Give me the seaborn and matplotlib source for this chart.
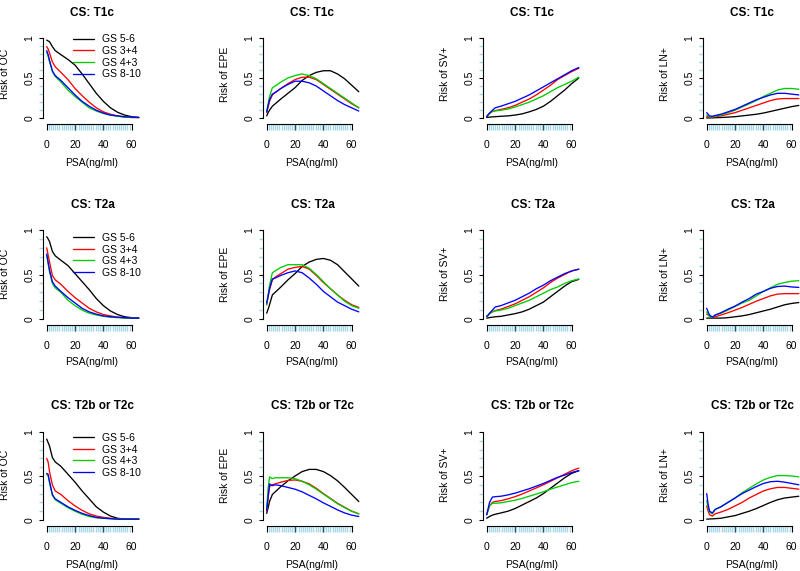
import pandas as pd
import seaborn as sns
import matplotlib.pyplot as plt

# PSA grid the risk curves are read at
psa = [0, 1, 2, 4, 6, 10, 15, 20, 25, 30, 35, 40, 45, 50, 55, 60, 65]
groups = ["GS 5-6", "GS 3+4", "GS 4+3", "GS 8-10"]
colors = ["black", "red", "#00cd00", "blue"]
stages = ["T1c", "T2a", "T2b or T2c"]
outcomes = ["OC", "EPE", "SV+", "LN+"]

# ---- CS: T1c ----
oc_t1c = {
    "GS 5-6": [0.97, 0.96, 0.95, 0.89, 0.84, 0.79, 0.73, 0.66, 0.55, 0.43, 0.31, 0.21, 0.13, 0.075, 0.04, 0.02, 0.01],
    "GS 3+4": [0.89, 0.86, 0.81, 0.70, 0.64, 0.57, 0.48, 0.37, 0.28, 0.20, 0.13, 0.08, 0.05, 0.03, 0.015, 0.01, 0.01],
    "GS 4+3": [0.82, 0.77, 0.70, 0.58, 0.52, 0.45, 0.35, 0.27, 0.20, 0.13, 0.09, 0.06, 0.04, 0.025, 0.015, 0.01, 0.01],
    "GS 8-10": [0.84, 0.79, 0.72, 0.59, 0.53, 0.47, 0.38, 0.29, 0.21, 0.15, 0.10, 0.065, 0.04, 0.03, 0.02, 0.015, 0.01],
}
epe_t1c = {
    "GS 5-6": [0.03, 0.07, 0.10, 0.15, 0.18, 0.24, 0.31, 0.38, 0.47, 0.53, 0.57, 0.59, 0.59, 0.55, 0.49, 0.41, 0.33],
    "GS 3+4": [0.07, 0.14, 0.21, 0.29, 0.32, 0.37, 0.43, 0.48, 0.51, 0.51, 0.48, 0.42, 0.36, 0.30, 0.24, 0.18, 0.13],
    "GS 4+3": [0.08, 0.18, 0.27, 0.38, 0.40, 0.45, 0.50, 0.53, 0.55, 0.53, 0.49, 0.43, 0.37, 0.31, 0.25, 0.19, 0.13],
    "GS 8-10": [0.08, 0.16, 0.23, 0.30, 0.32, 0.37, 0.42, 0.46, 0.46, 0.44, 0.40, 0.34, 0.28, 0.22, 0.17, 0.13, 0.09],
}
sv_t1c = {
    "GS 5-6": [0.01, 0.012, 0.015, 0.018, 0.02, 0.025, 0.03, 0.04, 0.055, 0.08, 0.11, 0.15, 0.21, 0.28, 0.35, 0.43, 0.50],
    "GS 3+4": [0.02, 0.04, 0.06, 0.085, 0.095, 0.11, 0.13, 0.16, 0.20, 0.24, 0.29, 0.35, 0.41, 0.48, 0.53, 0.58, 0.62],
    "GS 4+3": [0.02, 0.04, 0.06, 0.085, 0.092, 0.10, 0.115, 0.14, 0.17, 0.20, 0.24, 0.28, 0.33, 0.38, 0.42, 0.46, 0.51],
    "GS 8-10": [0.02, 0.045, 0.065, 0.10, 0.13, 0.15, 0.18, 0.21, 0.25, 0.29, 0.34, 0.39, 0.44, 0.49, 0.54, 0.59, 0.63],
}
ln_t1c = {
    "GS 5-6": [0.005, 0.005, 0.005, 0.005, 0.007, 0.01, 0.015, 0.02, 0.03, 0.04, 0.05, 0.065, 0.085, 0.105, 0.125, 0.145, 0.16],
    "GS 3+4": [0.02, 0.018, 0.015, 0.015, 0.018, 0.03, 0.05, 0.07, 0.10, 0.13, 0.16, 0.19, 0.22, 0.24, 0.245, 0.245, 0.245],
    "GS 4+3": [0.04, 0.03, 0.02, 0.02, 0.025, 0.04, 0.07, 0.10, 0.14, 0.18, 0.22, 0.27, 0.31, 0.35, 0.37, 0.37, 0.36],
    "GS 8-10": [0.07, 0.05, 0.03, 0.025, 0.035, 0.05, 0.08, 0.11, 0.15, 0.19, 0.23, 0.26, 0.29, 0.31, 0.31, 0.30, 0.29],
}

# ---- CS: T2a ----
oc_t2a = {
    "GS 5-6": [0.925, 0.90, 0.87, 0.76, 0.71, 0.66, 0.60, 0.51, 0.42, 0.33, 0.23, 0.15, 0.09, 0.05, 0.025, 0.015, 0.01],
    "GS 3+4": [0.80, 0.72, 0.64, 0.49, 0.44, 0.39, 0.31, 0.24, 0.18, 0.12, 0.08, 0.05, 0.035, 0.02, 0.015, 0.01, 0.01],
    "GS 4+3": [0.72, 0.62, 0.53, 0.40, 0.35, 0.30, 0.21, 0.15, 0.10, 0.065, 0.045, 0.03, 0.02, 0.015, 0.01, 0.01, 0.01],
    "GS 8-10": [0.73, 0.64, 0.55, 0.42, 0.37, 0.31, 0.24, 0.18, 0.12, 0.08, 0.055, 0.035, 0.025, 0.02, 0.015, 0.01, 0.01],
}
epe_t2a = {
    "GS 5-6": [0.065, 0.11, 0.16, 0.27, 0.30, 0.36, 0.44, 0.51, 0.59, 0.64, 0.67, 0.68, 0.66, 0.61, 0.53, 0.45, 0.37],
    "GS 3+4": [0.16, 0.25, 0.33, 0.44, 0.47, 0.51, 0.56, 0.58, 0.59, 0.56, 0.49, 0.41, 0.34, 0.27, 0.21, 0.16, 0.13],
    "GS 4+3": [0.16, 0.27, 0.38, 0.52, 0.54, 0.58, 0.61, 0.61, 0.61, 0.57, 0.50, 0.42, 0.34, 0.27, 0.20, 0.15, 0.12],
    "GS 8-10": [0.18, 0.26, 0.34, 0.45, 0.46, 0.49, 0.52, 0.54, 0.52, 0.46, 0.39, 0.31, 0.25, 0.19, 0.15, 0.11, 0.08],
}
sv_t2a = {
    "GS 5-6": [0.01, 0.013, 0.016, 0.02, 0.025, 0.03, 0.045, 0.06, 0.08, 0.11, 0.15, 0.19, 0.25, 0.31, 0.37, 0.42, 0.445],
    "GS 3+4": [0.025, 0.04, 0.06, 0.08, 0.095, 0.11, 0.14, 0.17, 0.21, 0.25, 0.30, 0.35, 0.41, 0.46, 0.50, 0.54, 0.56],
    "GS 4+3": [0.025, 0.04, 0.06, 0.08, 0.09, 0.10, 0.12, 0.15, 0.18, 0.21, 0.25, 0.29, 0.33, 0.36, 0.40, 0.43, 0.45],
    "GS 8-10": [0.03, 0.045, 0.065, 0.10, 0.135, 0.15, 0.18, 0.21, 0.25, 0.29, 0.34, 0.38, 0.43, 0.47, 0.51, 0.54, 0.56],
}
ln_t2a = {
    "GS 5-6": [0.01, 0.01, 0.01, 0.01, 0.01, 0.01, 0.015, 0.025, 0.035, 0.05, 0.07, 0.09, 0.11, 0.135, 0.16, 0.175, 0.185],
    "GS 3+4": [0.055, 0.045, 0.035, 0.015, 0.025, 0.045, 0.07, 0.10, 0.13, 0.165, 0.20, 0.23, 0.26, 0.28, 0.285, 0.285, 0.285],
    "GS 4+3": [0.08, 0.05, 0.025, 0.015, 0.045, 0.065, 0.10, 0.14, 0.18, 0.21, 0.26, 0.31, 0.35, 0.39, 0.41, 0.425, 0.43],
    "GS 8-10": [0.12, 0.08, 0.045, 0.02, 0.045, 0.07, 0.11, 0.145, 0.19, 0.23, 0.28, 0.31, 0.345, 0.365, 0.37, 0.36, 0.355],
}

# ---- CS: T2b or T2c ----
oc_t2bc = {
    "GS 5-6": [0.92, 0.88, 0.84, 0.71, 0.66, 0.61, 0.52, 0.43, 0.33, 0.24, 0.15, 0.09, 0.045, 0.02, 0.01, 0.01, 0.01],
    "GS 3+4": [0.70, 0.66, 0.55, 0.40, 0.33, 0.29, 0.22, 0.16, 0.11, 0.07, 0.045, 0.03, 0.02, 0.015, 0.01, 0.01, 0.01],
    "GS 4+3": [0.52, 0.50, 0.42, 0.28, 0.23, 0.19, 0.14, 0.10, 0.065, 0.04, 0.025, 0.02, 0.015, 0.01, 0.01, 0.01, 0.01],
    "GS 8-10": [0.53, 0.52, 0.44, 0.29, 0.24, 0.20, 0.15, 0.11, 0.075, 0.05, 0.03, 0.02, 0.015, 0.01, 0.01, 0.01, 0.01],
}
epe_t2bc = {
    "GS 5-6": [0.075, 0.14, 0.21, 0.29, 0.32, 0.38, 0.445, 0.50, 0.55, 0.575, 0.575, 0.55, 0.505, 0.445, 0.37, 0.29, 0.21],
    "GS 3+4": [0.10, 0.25, 0.38, 0.40, 0.41, 0.43, 0.45, 0.455, 0.44, 0.41, 0.36, 0.30, 0.245, 0.19, 0.145, 0.10, 0.07],
    "GS 4+3": [0.13, 0.36, 0.49, 0.47, 0.48, 0.48, 0.48, 0.47, 0.44, 0.40, 0.35, 0.295, 0.24, 0.185, 0.14, 0.10, 0.07],
    "GS 8-10": [0.11, 0.27, 0.41, 0.39, 0.40, 0.39, 0.37, 0.35, 0.32, 0.28, 0.24, 0.195, 0.155, 0.115, 0.08, 0.055, 0.04],
}
sv_t2bc = {
    "GS 5-6": [0.02, 0.03, 0.04, 0.055, 0.065, 0.08, 0.10, 0.13, 0.17, 0.21, 0.25, 0.30, 0.36, 0.42, 0.48, 0.53, 0.56],
    "GS 3+4": [0.06, 0.11, 0.16, 0.20, 0.21, 0.22, 0.24, 0.265, 0.295, 0.33, 0.365, 0.40, 0.44, 0.48, 0.52, 0.56, 0.59],
    "GS 4+3": [0.06, 0.11, 0.16, 0.19, 0.19, 0.195, 0.21, 0.225, 0.245, 0.27, 0.295, 0.32, 0.35, 0.375, 0.40, 0.425, 0.44],
    "GS 8-10": [0.06, 0.13, 0.20, 0.26, 0.265, 0.27, 0.285, 0.305, 0.33, 0.355, 0.385, 0.415, 0.45, 0.485, 0.51, 0.54, 0.56],
}
ln_t2bc = {
    "GS 5-6": [0.01, 0.01, 0.012, 0.013, 0.015, 0.02, 0.035, 0.05, 0.075, 0.10, 0.13, 0.165, 0.20, 0.23, 0.25, 0.26, 0.27],
    "GS 3+4": [0.16, 0.10, 0.06, 0.045, 0.07, 0.09, 0.12, 0.16, 0.20, 0.25, 0.29, 0.33, 0.355, 0.37, 0.37, 0.36, 0.35],
    "GS 4+3": [0.22, 0.14, 0.09, 0.07, 0.12, 0.15, 0.20, 0.25, 0.31, 0.36, 0.41, 0.455, 0.485, 0.505, 0.505, 0.50, 0.49],
    "GS 8-10": [0.30, 0.18, 0.10, 0.08, 0.12, 0.15, 0.20, 0.25, 0.30, 0.34, 0.38, 0.415, 0.435, 0.44, 0.43, 0.415, 0.40],
}

# rug marks along the axes
rug_psa = [0, 1.5, 3, 4.5, 6, 7.5, 9, 10.5, 12, 13.5, 15, 16.5, 18, 19.5, 21, 22.5, 24, 25.5,
           27, 28.5, 30, 31.5, 33, 34.5, 36, 37.5, 39, 40.5, 42, 43.5, 45, 46.5, 48, 49.5,
           51, 52.5, 54, 55.5, 57, 58.5, 60]
rug_risk = [0.1, 0.2, 0.3, 0.4, 0.6, 0.7, 0.8, 0.9]

panels = [
    [oc_t1c, epe_t1c, sv_t1c, ln_t1c],
    [oc_t2a, epe_t2a, sv_t2a, ln_t2a],
    [oc_t2bc, epe_t2bc, sv_t2bc, ln_t2bc],
]

sns.set_style("ticks", {"axes.edgecolor": "black", "xtick.color": "black",
                        "ytick.color": "black", "text.color": "black"})
plt.rcParams["font.family"] = ["Liberation Sans", "DejaVu Sans"]

W, H = 800, 571
fig = plt.figure(figsize=(W / 100, H / 100), dpi=100)

# pixel layout (rows are not all the same height)
row_y0 = [118.3, 319.0, 520.0]   # y pixel of risk 0
row_y1 = [37.7, 230.0, 432.0]    # y pixel of risk 1
title_y = [13.3, 205.0, 406.0]
xlab_y = [163.3, 362.0, 565.0]
ylab_y = [74.0, 274.0, 475.0]
legend_top = [34.5, 233.0, 433.0]
x0, sx, step = 46.7, 1.417, 220
xlim = (-2.5, 67.5)
rug_blue = "#a6d8e8"

for r, stage in enumerate(stages):
    sy = row_y0[r] - row_y1[r]
    ylim = (-6 / sy, 1.05)
    for c, outcome in enumerate(outcomes):
        left = x0 + step * c + xlim[0] * sx
        right = x0 + step * c + xlim[1] * sx
        bottom = row_y0[r] - ylim[0] * sy
        top = row_y0[r] - ylim[1] * sy
        ax = fig.add_axes([left / W, 1 - bottom / H, (right - left) / W, (bottom - top) / H])

        curves = panels[r][c]
        df = pd.DataFrame([(p, g, v) for g in groups for p, v in zip(psa, curves[g])],
                          columns=["psa", "group", "risk"])
        sns.lineplot(data=df, x="psa", y="risk", hue="group", hue_order=groups,
                     palette=colors, linewidth=0.95, estimator=None, sort=False,
                     legend=False, ax=ax)

        ax.set_xlim(*xlim)
        ax.set_ylim(*ylim)
        ax.set_xlabel("")
        ax.set_ylabel("")
        ax.set_xticks([0, 20, 40, 60])
        ax.set_xticks(rug_psa, minor=True)
        ax.set_yticks([0, 0.5, 1])
        ax.set_yticklabels(["0", "0.5", "1"], rotation=90, va="center")
        ax.set_yticks(rug_risk, minor=True)
        sns.despine(ax=ax)
        ax.spines["bottom"].set_bounds(0, 60)
        ax.spines["left"].set_bounds(0, 1)
        for s in ("bottom", "left"):
            ax.spines[s].set_linewidth(0.8)
        ax.tick_params(axis="x", which="major", direction="out", length=4.2, width=0.8,
                       pad=7, labelsize=7.5)
        ax.tick_params(axis="x", which="minor", direction="out", length=4.2, width=1.0,
                       color=rug_blue)
        ax.tick_params(axis="y", which="major", direction="out", length=3.2, width=0.8,
                       pad=3, labelsize=7.5)
        ax.tick_params(axis="y", which="minor", direction="out", length=3.2, width=1.0,
                       color=rug_blue)

        fig.text((92.5 + step * c) / W, 1 - title_y[r] / H, f"CS: {stage}",
                 ha="center", va="center", fontsize=8.5, fontweight="bold")
        fig.text((91.7 + step * c) / W, 1 - xlab_y[r] / H, "PSA(ng/ml)",
                 ha="center", va="center", fontsize=7.5)
        fig.text((5.3 + step * c) / W, 1 - ylab_y[r] / H, f"Risk of {outcome}",
                 ha="center", va="center", rotation=90, fontsize=7.5)

        if c == 0:
            ax.legend(ax.get_lines()[:4], groups, loc="upper left",
                      bbox_to_anchor=(73.3 / W, 1 - legend_top[r] / H),
                      bbox_transform=fig.transFigure, frameon=False, fontsize=7.5,
                      handlelength=2.0, handletextpad=0.8, labelspacing=0.15,
                      borderpad=0, borderaxespad=0)

fig.savefig("out.png", dpi=100)
